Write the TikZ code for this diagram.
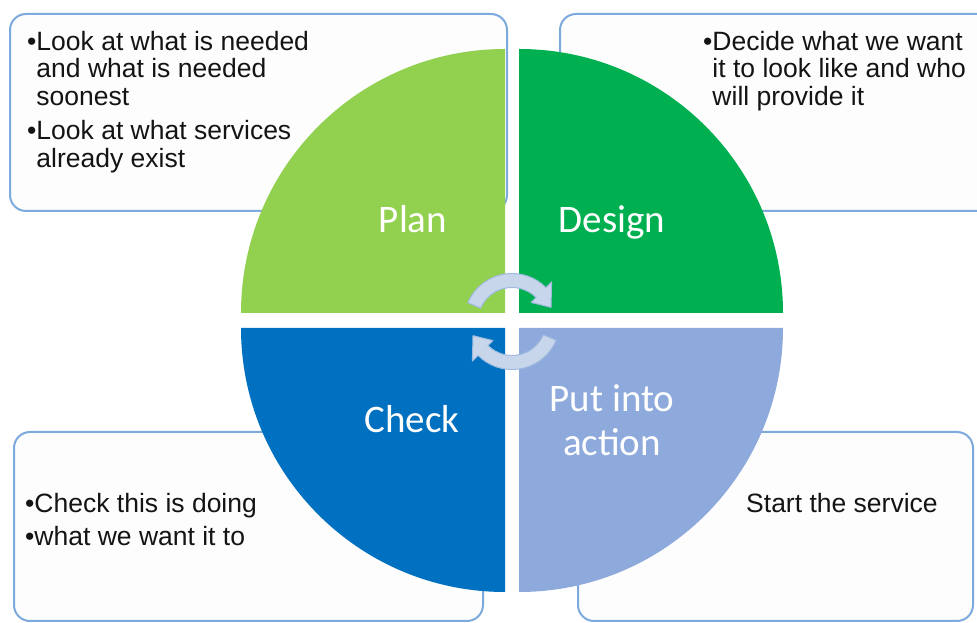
\documentclass[tikz,border=0pt]{standalone}
\usepackage{fontspec}
\setmainfont{Liberation Sans}
\newfontfamily\calib{Carlito}
\definecolor{boxblue}{RGB}{125,170,221}
\definecolor{boxfill}{RGB}{253,253,253}
\definecolor{plancol}{RGB}{146,208,80}
\definecolor{designcol}{RGB}{0,176,80}
\definecolor{checkcol}{RGB}{0,112,192}
\definecolor{actioncol}{RGB}{142,169,219}
\definecolor{arrowfill}{RGB}{200,214,236}
\definecolor{arrowline}{RGB}{160,186,222}
\definecolor{textgray}{RGB}{20,20,20}
\begin{document}
\begin{tikzpicture}[x=1pt,y=1pt,
  infobox/.style={draw=boxblue, line width=2pt, fill=boxfill, rounded corners=16pt},
  qlabel/.style={text=white, font=\calib\fontsize{39}{44}\selectfont, align=center, inner sep=0pt},
  boxtext/.style={text=textgray, font=\fontsize{26.5}{27.5}\selectfont, align=left, inner sep=0pt},
  cycarrow/.style={fill=arrowfill, draw=arrowline, line width=1pt, line join=round}]
\useasboundingbox (0,0) rectangle (977,623);
\clip (0,0) rectangle (977,623);
% text boxes
\draw[infobox] (10,412) rectangle (507,609);
\draw[infobox] (560,412) rectangle (995,609);
\draw[infobox] (14,2) rectangle (483,191);
\draw[infobox] (578,2) rectangle (973,191);
% quadrants
\fill[plancol] (505,310) -- (241,310) arc[start angle=180, end angle=90, radius=264] -- cycle;
\fill[designcol] (519,310) -- (519,574) arc[start angle=90, end angle=0, radius=264] -- cycle;
\fill[checkcol] (505,295) -- (241,295) arc[start angle=180, end angle=270, radius=264] -- cycle;
\fill[actioncol] (519,295) -- (783,295) arc[start angle=0, end angle=-90, radius=264] -- cycle;
% cycle arrows
\begin{scope}[shift={(512,301.5)}]
\draw[cycarrow] (157:48) arc[start angle=157, end angle=45, radius=48] -- (45:56) -- (20:41.5) -- (45:27) -- (45:34) arc[start angle=45, end angle=157, radius=34] -- cycle;
\draw[cycarrow] (-23:48) arc[start angle=-23, end angle=-135, radius=48] -- (-135:56) -- (-160:41.5) -- (-135:27) -- (-135:34) arc[start angle=-135, end angle=-23, radius=34] -- cycle;
\end{scope}
% quadrant labels
\node[qlabel, anchor=base] (plan) at (413,390) {Plan};
\node[qlabel, anchor=base] (design) at (612,390) {Design};
\node[qlabel, anchor=base] (check) at (412,190) {Check};
\node[qlabel, anchor=center] (action) at (612,202.5) {Put into\\action};
% box texts
\node[boxtext, anchor=north west] (plantext) at (27,592.3)
  {\textbullet Look at what is needed\\
   \phantom{\textbullet}and what is needed\\
   \phantom{\textbullet}soonest\\[7pt]
   \textbullet Look at what services\\
   \phantom{\textbullet}already exist};
\node[boxtext, anchor=north west] (designtext) at (703,592.3)
  {\textbullet Decide what we want\\
   \phantom{\textbullet}it to look like and who\\
   \phantom{\textbullet}will provide it};
\node[boxtext, anchor=north west] (checktext) at (25,130.3)
  {\textbullet Check this is doing\\[5.5pt]
   \textbullet what we want it to};
\node[boxtext, anchor=base west] (actiontext) at (746,110) {Start the service};
\end{tikzpicture}
\end{document}
